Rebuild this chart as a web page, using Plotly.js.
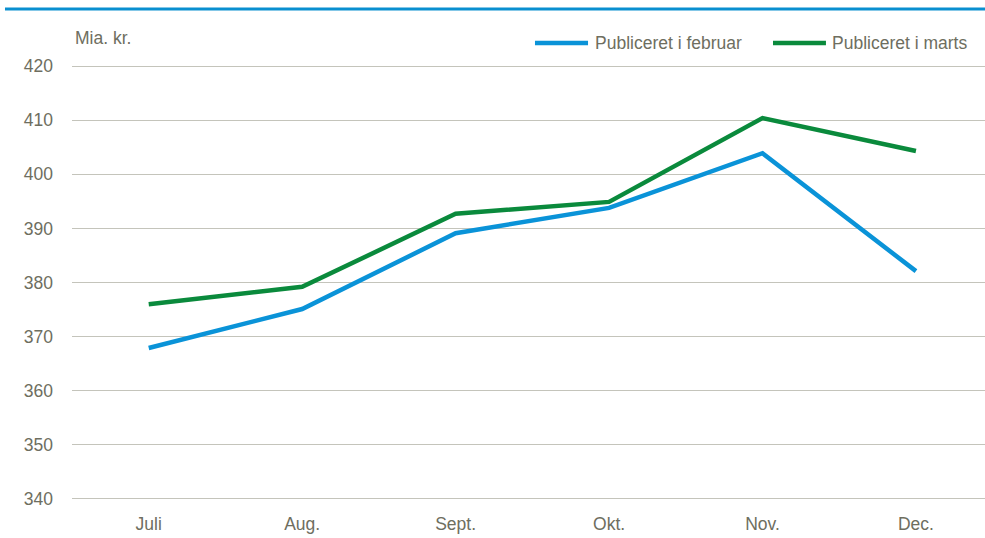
<!DOCTYPE html>
<html>
<head>
<meta charset="utf-8">
<script src="https://cdn.plot.ly/plotly-3.0.1.min.js"></script>
<style>html,body{margin:0;padding:0;background:#fff}#chart{width:985px;height:538px}</style>
</head>
<body>
<div id="chart"></div>
<script>
var months = ["Juli", "Aug.", "Sept.", "Okt.", "Nov.", "Dec."];
var februar = [367.9, 375.1, 389.1, 393.8, 403.9, 382.1];
var marts = [376.0, 379.2, 392.7, 394.9, 410.4, 404.3];
var seriesNames = ["Publiceret i februar", "Publiceret i marts"];
var yTicks = [340, 350, 360, 370, 380, 390, 400, 410, 420];
var unitLabel = "Mia. kr.";

var blue = "#0a93d8";
var green = "#0a8a3c";
var txt = "#6e6e60";
var fnt = "Liberation Sans, Arial, sans-serif";
var fs = 17.5;

var traces = [
  {x: months, y: februar, name: seriesNames[0], type: "scatter", mode: "lines",
   line: {color: blue, width: 4.5}, hoverinfo: "x+y"},
  {x: months, y: marts, name: seriesNames[1], type: "scatter", mode: "lines",
   line: {color: green, width: 4.5}, hoverinfo: "x+y"}
];

var layout = {
  width: 985, height: 538,
  margin: {l: 72, r: 0, t: 58, b: 31, pad: 0},
  paper_bgcolor: "#fff", plot_bgcolor: "#fff",
  showlegend: false,
  font: {family: fnt, size: fs, color: txt},
  xaxis: {type: "category", range: [-0.5, 5.45], showgrid: false, zeroline: false,
          showline: false, ticks: "", ticklabelstandoff: 4, tickfont: {family: fnt, size: fs, color: txt}, fixedrange: true},
  yaxis: {range: [338.5, 421.5], tickvals: yTicks, ticktext: yTicks.map(String), showgrid: true,
          gridcolor: "#c4c4bb", gridwidth: 1, zeroline: false, showline: false, ticks: "",
          ticklabelstandoff: 18, tickfont: {family: fnt, size: fs, color: txt}, fixedrange: true},
  shapes: [
    {type: "line", xref: "paper", yref: "paper", x0: -0.0734, x1: 1, y0: 1.1091, y1: 1.1091,
     line: {color: "#0a8fd0", width: 3}},
    {type: "line", xref: "paper", yref: "paper", x0: 0.5071, x1: 0.5652, y0: 1.0334, y1: 1.0334,
     line: {color: blue, width: 4.5}},
    {type: "line", xref: "paper", yref: "paper", x0: 0.7678, x1: 0.8258, y0: 1.0334, y1: 1.0334,
     line: {color: green, width: 4.5}}
  ],
  annotations: [
    {text: unitLabel, xref: "paper", yref: "paper", x: 0.001, y: 1.0445, xanchor: "left", yanchor: "middle",
     showarrow: false, font: {family: fnt, size: fs, color: txt}},
    {text: seriesNames[0], xref: "paper", yref: "paper", x: 0.5707, y: 1.0334, xanchor: "left", yanchor: "middle",
     showarrow: false, font: {family: fnt, size: fs, color: txt}},
    {text: seriesNames[1], xref: "paper", yref: "paper", x: 0.8302, y: 1.0334, xanchor: "left", yanchor: "middle",
     showarrow: false, font: {family: fnt, size: fs, color: txt}}
  ]
};

Plotly.newPlot("chart", traces, layout, {displayModeBar: false, staticPlot: true});
</script>
</body>
</html>
